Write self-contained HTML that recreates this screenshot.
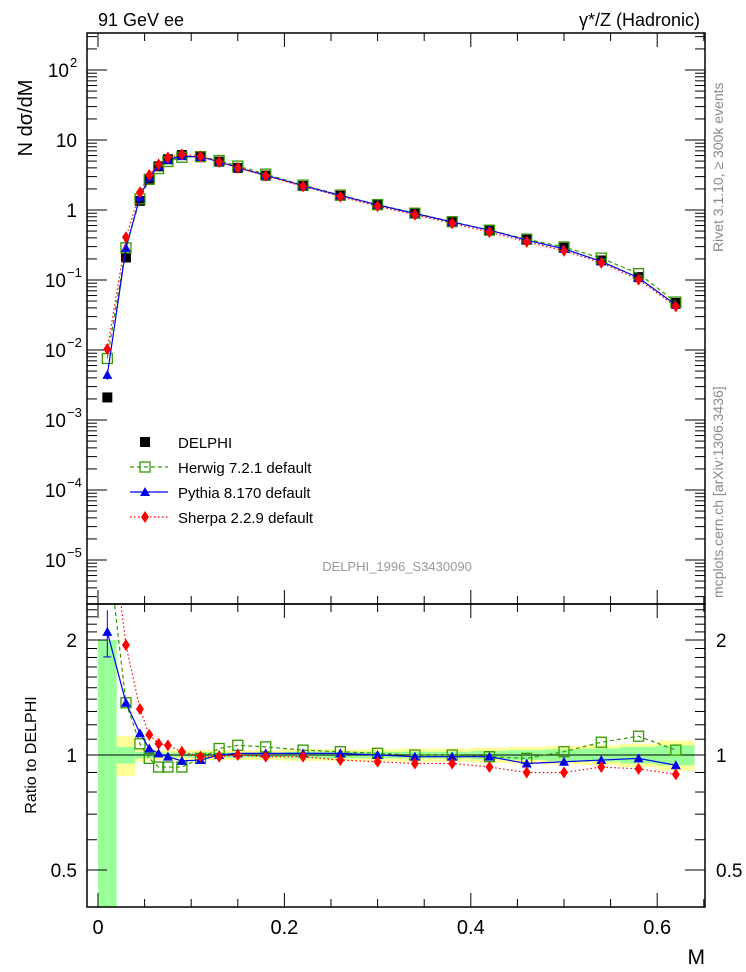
<!DOCTYPE html>
<html><head><meta charset="utf-8"><style>
body{margin:0;background:#fff;}
svg{display:block;font-family:"Liberation Sans",sans-serif;}
</style></head><body>
<svg id="c" width="746" height="972" viewBox="0 0 746 972" xmlns="http://www.w3.org/2000/svg"></svg>
<script>
const xs=[0.01,0.03,0.045,0.055,0.065,0.075,0.09,0.11,0.13,0.15,0.18,0.22,0.26,0.30,0.34,0.38,0.42,0.46,0.50,0.54,0.58,0.62];
const edges=[0,0.02,0.04,0.05,0.06,0.07,0.08,0.10,0.12,0.14,0.16,0.20,0.24,0.28,0.32,0.36,0.40,0.44,0.48,0.52,0.56,0.60,0.64];
const delphi=[0.0021,0.21,1.35,2.8,4.2,5.3,6.1,5.9,4.9,4.0,3.1,2.2,1.6,1.18,0.9,0.68,0.52,0.39,0.29,0.19,0.11,0.047];
const herwigR=[3.6,1.37,1.07,0.98,0.93,0.93,0.93,0.98,1.04,1.06,1.05,1.03,1.02,1.01,1.0,1.0,0.99,0.98,1.02,1.08,1.12,1.03];
const pythiaR=[2.1,1.37,1.14,1.04,1.01,0.99,0.965,0.97,1.0,1.01,1.01,1.01,1.01,1.0,0.99,0.99,0.99,0.95,0.96,0.97,0.98,0.94];
const sherpaR=[4.9,1.94,1.32,1.13,1.07,1.06,1.02,0.99,0.99,1.0,0.99,0.99,0.97,0.96,0.95,0.95,0.93,0.9,0.9,0.93,0.92,0.89];
const statErr=[1.0,0.05,0.02,0.02,0.015,0.015,0.015,0.015,0.015,0.015,0.015,0.02,0.02,0.02,0.02,0.02,0.025,0.03,0.035,0.04,0.05,0.06];
const totErr=[1.0,0.12,0.04,0.035,0.03,0.03,0.03,0.03,0.03,0.03,0.03,0.035,0.035,0.035,0.04,0.04,0.045,0.05,0.055,0.06,0.07,0.09];
const yTicks=[-5,-4,-3,-2,-1,0,1,2];
const xTickLabels=[0,0.2,0.4,0.6];
const rTicks=[0.5,1,2];

const S=document.getElementById('c');const NS='http://www.w3.org/2000/svg';
function el(t,a,p){const e=document.createElementNS(NS,t);for(const k in a)e.setAttribute(k,a[k]);(p||S).appendChild(e);return e;}
const L=87,R=705,T1=33,B1=604,B2=907;
const X=v=>98+v*932;
const Y=v=>210-70*Math.log10(v);
const YR=v=>755-115*Math.log2(v);

const bands=el('g',{});


xs.forEach((x,i)=>{
  const x0=X(edges[i]),x1=X(edges[i+1]);
  const yt=Math.max(B1,YR(1+totErr[i])),yb=Math.min(B2,YR(Math.max(0.01,1-totErr[i])));
  const r=el('rect',{x:x0,y:yt,width:x1-x0,height:yb-yt,fill:'#ffff99'},bands);
  
  
  const gt=Math.max(B1,YR(1+statErr[i])),gb=Math.min(B2,YR(Math.max(0.01,1-statErr[i])));
  const g=el('rect',{x:x0,y:gt,width:x1-x0,height:gb-gt,fill:'#99ff99'},bands);
  
  
});
el('line',{x1:L,x2:R,y1:YR(1),y2:YR(1),stroke:'#000','stroke-width':1});

const f1=el('rect',{x:L,y:T1,width:R-L,height:B1-T1,fill:'none',stroke:'#000','stroke-width':1.5});

const f2=el('rect',{x:L,y:B1,width:R-L,height:B2-B1,fill:'none',stroke:'#000','stroke-width':1.5});


for(let v=0;v<=0.651;v+=0.05){
  const big=Math.abs(v*10-Math.round(v*10))<1e-6&&Math.round(v*10)%2==0;
  const h=big?14:8;const x=X(v);
  [[T1,1],[B1,-1],[B1,1],[B2,-1]].forEach(([y,d])=>el('line',{x1:x,x2:x,y1:y,y2:y+d*h,stroke:'#000'}));
}
xTickLabels.forEach(v=>{const t=el('text',{x:X(v),y:934,'font-size':20,'text-anchor':'middle'});t.textContent=v;
  });
const xt=el('text',{x:705,y:964,'font-size':21,'text-anchor':'end'});xt.textContent='M';


for(let d=-6;d<=2;d++){for(let m=1;m<10;m++){const v=m*Math.pow(10,d);const y=Y(v);if(y<T1||y>B1)continue;
  const h=m==1?20:10;el('line',{x1:L,x2:L+h,y1:y,y2:y,stroke:'#000'});el('line',{x1:R,x2:R-h,y1:y,y2:y,stroke:'#000'});}}
yTicks.forEach(d=>{const y=Y(Math.pow(10,d));let t;
  if(d==0){t=el('text',{x:77,y:y+7,'font-size':19,'text-anchor':'end'});t.textContent='1';}
  else if(d==1){t=el('text',{x:77,y:y+7,'font-size':19,'text-anchor':'end'});t.textContent='10';}
  else{t=el('text',{x:d<0?66:69,y:y+7,'font-size':19,'text-anchor':'end'});t.textContent='10';
    const s=el('text',{x:d<0?67:70,y:y-3,'font-size':13});s.textContent=d<0?'\u2212'+(-d):String(d);
    }
  });
const yt=el('text',{x:0,y:0,'font-size':20,transform:'translate(32,118) rotate(-90)','text-anchor':'middle'});yt.textContent='N dσ/dM';


for(let v=0.4;v<=2.5;v+=0.1){const y=YR(v);if(y<B1||y>B2)continue;const maj=Math.abs(v-0.5)<1e-6||Math.abs(v-1)<1e-6||Math.abs(v-2)<1e-6;
  const h=maj?20:10;el('line',{x1:L,x2:L+h,y1:y,y2:y,stroke:'#000'});el('line',{x1:R,x2:R-h,y1:y,y2:y,stroke:'#000'});}
rTicks.forEach(v=>{const y=YR(v);[[77,'end'],[716,'start']].forEach(([x,a])=>{const t=el('text',{x:x,y:y+7,'font-size':19,'text-anchor':a});t.textContent=v;
  });});
const rt=el('text',{x:0,y:0,'font-size':16,transform:'translate(36,755) rotate(-90)','text-anchor':'middle'});rt.textContent='Ratio to DELPHI';


function marker(kind,x,y,g){
  if(kind=='sq')return el('rect',{x:x-5,y:y-5,width:10,height:10,fill:'#000'},g);
  if(kind=='osq')return el('rect',{x:x-5,y:y-5,width:10,height:10,fill:'none',stroke:'#339900','stroke-width':1.3},g);
  if(kind=='tri')return el('polygon',{points:`${x},${y-5} ${x+5},${y+4} ${x-5},${y+4}`,fill:'#0000ee'},g);
  return el('polygon',{points:`${x},${y-6} ${x+4},${y} ${x},${y+6} ${x-4},${y}`,fill:'#ff0000'},g);
}
const clipM=el('clipPath',{id:'cm'});el('rect',{x:L,y:T1,width:R-L,height:B1-T1},clipM);
const clipR=el('clipPath',{id:'cr'});el('rect',{x:L,y:B1,width:R-L,height:B2-B1},clipR);

const gd=el('g',{});
xs.forEach((x,i)=>{const m=marker('sq',X(x),Y(delphi[i]),gd);});

const series=[['herwig',herwigR,'#339900','4,3','osq'],['pythia',pythiaR,'#0000ee','','tri'],['sherpa',sherpaR,'#ff0000','1.5,2.5','dia']];
series.forEach(([n,r,c,da,k])=>{
  const gm=el('g',{'clip-path':'url(#cm)'});
  const gr=el('g',{'clip-path':'url(#cr)'});
  el('polyline',{points:xs.map((x,i)=>X(x)+','+Y(delphi[i]*r[i])).join(' '),fill:'none',stroke:c,'stroke-dasharray':da,'stroke-width':1.2},gm);
  el('polyline',{points:xs.map((x,i)=>X(x)+','+YR(r[i])).join(' '),fill:'none',stroke:c,'stroke-dasharray':da,'stroke-width':1.2},gr);
  xs.forEach((x,i)=>{const m=marker(k,X(x),Y(delphi[i]*r[i]),gm);
    const m2=marker(k,X(x),YR(r[i]),gr);});
});
el('line',{x1:X(0.01),x2:X(0.01),y1:YR(2.1*1.14),y2:YR(2.1*0.86),stroke:'#0000ee'});
el('line',{x1:X(0.01)-4,x2:X(0.01)+4,y1:YR(2.1*0.86),y2:YR(2.1*0.86),stroke:'#0000ee'});
el('line',{x1:X(0.01),x2:X(0.01),y1:Y(0.0021*2.1*1.15),y2:Y(0.0021*2.1*0.85),stroke:'#0000ee'});

const leg=[['DELPHI','sq',null,''],['Herwig 7.2.1 default','osq','#339900','4,3'],['Pythia 8.170 default','tri','#0000ee',''],['Sherpa 2.2.9 default','dia','#ff0000','1.5,2.5']];
leg.forEach(([t,k,c,da],i)=>{const y=442+i*25;const g=el('g',{});
  if(c)el('line',{x1:130,x2:168,y1:y,y2:y,stroke:c,'stroke-dasharray':da,'stroke-width':1.2},g);
  marker(k,145,y,g);const tx=el('text',{x:178,y:y+6,'font-size':15},g);tx.textContent=t;});

const texts=[['91 GeV ee',98,26,18,'start','#000'],['γ*/Z (Hadronic)',700,26,18,'end','#000'],['DELPHI_1996_S3430090',397,571,13,'middle','#999']];
texts.forEach(([t,x,y,s,a,c])=>{const e=el('text',{x:x,y:y,'font-size':s,'text-anchor':a,fill:c});e.textContent=t;
  });
const r1=el('text',{x:0,y:0,'font-size':14,fill:'#888',transform:'translate(723,252) rotate(-90)'});r1.textContent='Rivet 3.1.10, \u2265 300k events';

const r2=el('text',{x:0,y:0,'font-size':14,fill:'#888',transform:'translate(723,598) rotate(-90)'});r2.textContent='mcplots.cern.ch [arXiv:1306.3436]';

</script>
</body></html>
